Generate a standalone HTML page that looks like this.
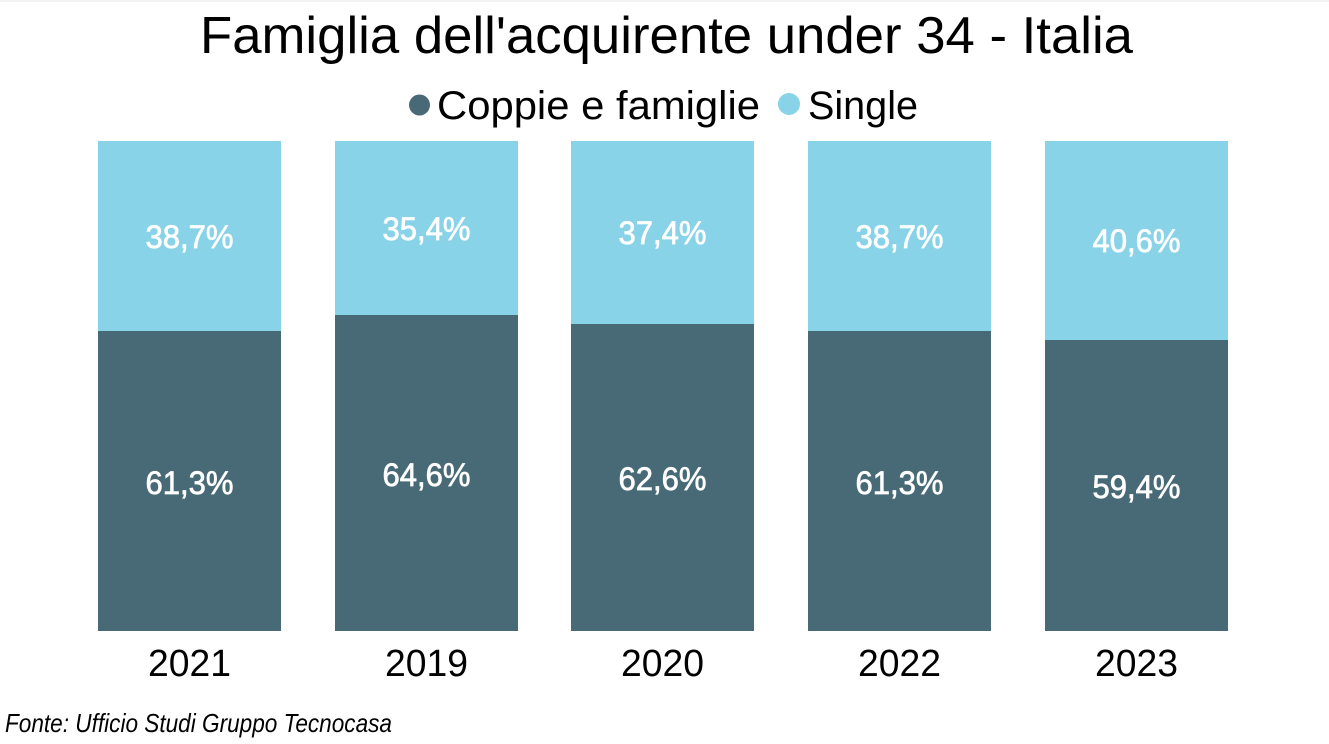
<!DOCTYPE html>
<html>
<head>
<meta charset="utf-8">
<style>
html,body{margin:0;padding:0;background:#fff;}
svg{display:block;}
text{font-family:"Liberation Sans",sans-serif;}
</style>
</head>
<body>
<svg width="1329" height="744" viewBox="0 0 1329 744" xmlns="http://www.w3.org/2000/svg">
<rect x="0" y="0" width="1329" height="744" fill="#ffffff"/>
<rect x="0" y="0" width="1329" height="2" fill="#f3f3f3"/>

<!-- Title -->
<text x="666.5" y="53" font-size="52" text-anchor="middle" fill="#000" textLength="933" lengthAdjust="spacingAndGlyphs">Famiglia dell'acquirente under 34 - Italia</text>

<!-- Legend -->
<circle cx="419.5" cy="105" r="10.5" fill="#486a76"/>
<text x="437" y="119" font-size="40" fill="#000" textLength="323" lengthAdjust="spacingAndGlyphs">Coppie e famiglie</text>
<circle cx="789" cy="104" r="11" fill="#89d3e9"/>
<text x="808" y="119" font-size="40" fill="#000" textLength="110" lengthAdjust="spacingAndGlyphs">Single</text>

<!-- Bars -->
<g>
  <rect x="98" y="141" width="183" height="190" fill="#89d3e9"/>
  <rect x="98" y="331" width="183" height="300" fill="#486a76"/>
  <rect x="335" y="141" width="183" height="174" fill="#89d3e9"/>
  <rect x="335" y="315" width="183" height="316" fill="#486a76"/>
  <rect x="571" y="141" width="183" height="183" fill="#89d3e9"/>
  <rect x="571" y="324" width="183" height="307" fill="#486a76"/>
  <rect x="808" y="141" width="183" height="190" fill="#89d3e9"/>
  <rect x="808" y="331" width="183" height="300" fill="#486a76"/>
  <rect x="1045" y="141" width="183" height="199" fill="#89d3e9"/>
  <rect x="1045" y="340" width="183" height="291" fill="#486a76"/>
</g>

<!-- Value labels -->
<g font-size="32" fill="#ffffff" stroke="#ffffff" stroke-width="0.7" text-anchor="middle">
  <text x="189.5" y="248" textLength="88" lengthAdjust="spacingAndGlyphs">38,7%</text>
  <text x="189.5" y="494" textLength="88" lengthAdjust="spacingAndGlyphs">61,3%</text>
  <text x="426.5" y="240" textLength="88" lengthAdjust="spacingAndGlyphs">35,4%</text>
  <text x="426.5" y="486" textLength="88" lengthAdjust="spacingAndGlyphs">64,6%</text>
  <text x="662.5" y="244" textLength="88" lengthAdjust="spacingAndGlyphs">37,4%</text>
  <text x="662.5" y="490" textLength="88" lengthAdjust="spacingAndGlyphs">62,6%</text>
  <text x="899.5" y="248" textLength="88" lengthAdjust="spacingAndGlyphs">38,7%</text>
  <text x="899.5" y="494" textLength="88" lengthAdjust="spacingAndGlyphs">61,3%</text>
  <text x="1136.5" y="252" textLength="88" lengthAdjust="spacingAndGlyphs">40,6%</text>
  <text x="1136.5" y="498" textLength="88" lengthAdjust="spacingAndGlyphs">59,4%</text>
</g>

<!-- Category labels -->
<g font-size="38" fill="#000" text-anchor="middle">
  <text x="189.5" y="676" textLength="83" lengthAdjust="spacingAndGlyphs">2021</text>
  <text x="426.5" y="676" textLength="83" lengthAdjust="spacingAndGlyphs">2019</text>
  <text x="662.5" y="676" textLength="83" lengthAdjust="spacingAndGlyphs">2020</text>
  <text x="899.5" y="676" textLength="83" lengthAdjust="spacingAndGlyphs">2022</text>
  <text x="1136.5" y="676" textLength="83" lengthAdjust="spacingAndGlyphs">2023</text>
</g>

<!-- Source -->
<text x="5" y="732" font-size="26" font-style="italic" fill="#000" textLength="387" lengthAdjust="spacingAndGlyphs">Fonte: Ufficio Studi Gruppo Tecnocasa</text>
</svg>
</body>
</html>
